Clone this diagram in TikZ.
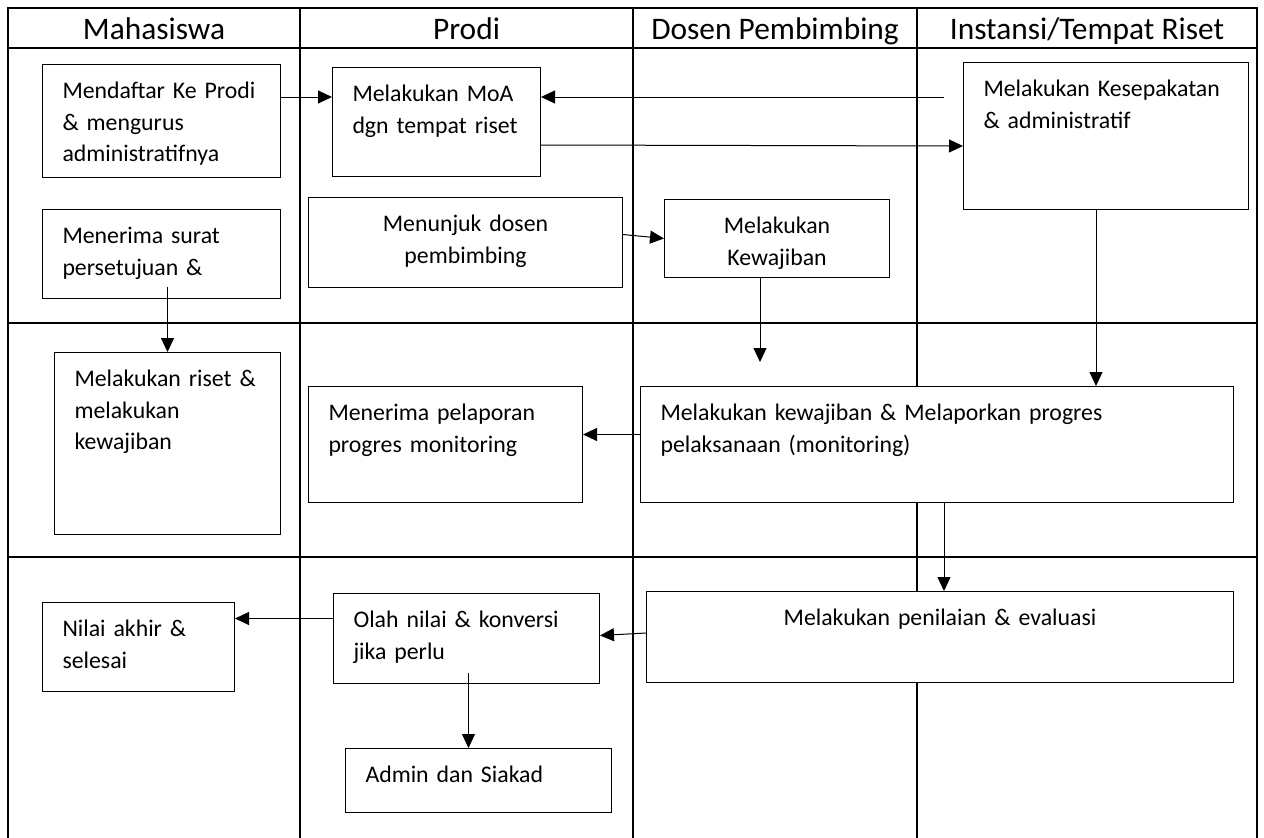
\documentclass[tikz,border=0pt]{standalone}
\usepackage{fontspec}
\setmainfont{Carlito}
\usetikzlibrary{arrows, arrows.meta}
\usetikzlibrary{calc}

\tikzset{
  kotak/.style={draw, fill=white, line width=1pt, anchor=north west, inner xsep=20pt, inner ysep=0pt, text height=34pt, align=left, font={\fontsize{23.8pt}{31.5pt}\selectfont}},
  judul/.style={anchor=base, font={\fontsize{31.4pt}{36pt}\selectfont}},
  garis/.style={line width=2pt},
  panah/.style={-{Triangle[length=14pt,width=13pt]}, line width=1pt}
}

\begin{document}
\begin{tikzpicture}[x=1pt, y=1pt]
    \useasboundingbox (0,0) rectangle (1264,-838);

    % lajur dan baris
    \draw[garis] (8,-838) -- (8,-8) -- (1257,-8) -- (1257,-838);
    \draw[garis] (8,-48) -- (1257,-48);
    \draw[garis] (8,-323) -- (1257,-323);
    \draw[garis] (8,-557) -- (1257,-557);
    \foreach \x in {300,633,917}
        \draw[garis] (\x,-8) -- (\x,-838);

    \node[judul] (mhs) at (154,-39) {Mahasiswa};
    \node[judul] (prodi) at (466.5,-39) {Prodi};
    \node[judul] (dosen) at (775,-39) {Dosen Pembimbing};
    \node[judul] (instansi) at (1087,-39) {Instansi/Tempat Riset};

    % kotak kegiatan
    \node[kotak, text width=198pt, text depth=79pt] (daftar) at (42,-64) {Mendaftar~Ke~Prodi\\ \& mengurus\\ administratifnya};
    \node[kotak, text width=168pt, text depth=75pt] (moa) at (332,-67) {Melakukan MoA\\ dgn tempat riset};
    \node[kotak, text width=245pt, text depth=113pt] (sepakat) at (963,-62) {Melakukan~Kesepakatan\\ \& administratif};
    \node[kotak, text width=198pt, text depth=55pt] (surat) at (42,-209) {Menerima surat\\ persetujuan \&};
    \node[kotak, align=center, text width=274pt, text depth=56pt] (tunjuk) at (308,-197) {Menunjuk dosen\\ pembimbing};
    \node[kotak, align=center, text width=185pt, text depth=44pt] (wajib) at (664,-199) {Melakukan\\ Kewajiban};
    \node[kotak, text width=186pt, text depth=148pt] (riset) at (54,-352) {Melakukan~riset~\&\\ melakukan\\ kewajiban};
    \node[kotak, text width=234pt, text depth=82pt] (terima) at (308,-386) {Menerima~pelaporan\\ progres monitoring};
    \node[kotak, text width=553pt, text depth=82pt] (lapor) at (640,-386) {Melakukan kewajiban \& Melaporkan progres\\ pelaksanaan (monitoring)};
    \node[kotak, text width=152pt, text depth=55pt] (akhir) at (42,-602) {Nilai akhir \&\\ selesai};
    \node[kotak, text width=226pt, text depth=56pt] (olah) at (333,-593) {Olah~nilai~\&~konversi\\ jika perlu};
    \node[kotak, text width=226pt, text depth=30pt] (admin) at (345,-748) {Admin dan Siakad};
    \node[kotak, align=center, text width=547pt, text depth=57pt] (nilai) at (646,-591) {Melakukan penilaian \& evaluasi};

    % alur
    \coordinate (balik) at (944,-97);
    \coordinate (ujung) at (760,-362);
    \coordinate (s1) at ([xshift=-10pt]sepakat.south);
    \coordinate (l1) at ([xshift=7pt]lapor.south);
    \coordinate (o1) at ([xshift=2pt,yshift=11pt]olah.south);

    \draw[panah] ([yshift=-33pt]daftar.north east) -- ([yshift=-30pt]moa.north west);
    \draw[panah] (balik) -- ([yshift=-30pt]moa.north east);
    \draw[panah] ([yshift=-78pt]moa.north east) -- ([yshift=-84pt]sepakat.north west);
    \draw[panah] ($(riset.north |- surat.south)+(0,12)$) -- (riset.north);
    \draw[panah] ([yshift=8pt]tunjuk.east) -- (wajib.west);
    \draw[panah] (wajib.south -| ujung) -- (ujung);
    \draw[panah] (s1) -- (s1 |- lapor.north);
    \draw[panah] ([yshift=10pt]lapor.west) -- ([yshift=10pt]terima.east);
    \draw[panah] (l1) -- (l1 |- nilai.north);
    \draw[panah] ([yshift=4pt]nilai.west) -- ([yshift=3pt]olah.east);
    \draw[panah] ([yshift=20pt]olah.west) -- ([yshift=28.5pt]akhir.east);
    \draw[panah] (o1) -- (o1 |- admin.north);
\end{tikzpicture}
\end{document}
